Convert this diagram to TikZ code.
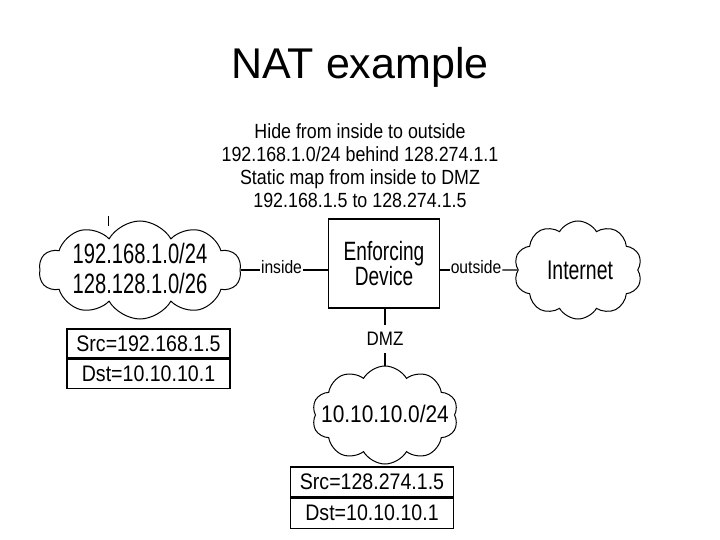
\documentclass[tikz,border=0pt]{standalone}
\usepackage{fontspec}
\setmainfont{Liberation Sans}
\newfontfamily\slimfont[FakeStretch=0.72]{Liberation Sans}
\newfontfamily\halfslimfont[FakeStretch=0.87]{Liberation Sans}
\usetikzlibrary{shapes.symbols}
\tikzset{
  netcloud/.style={cloud, draw, cloud puffs=10, cloud puff arc=120,
    cloud ignores aspect, inner sep=0pt, line width=1pt},
  pktbox/.style={draw, line width=1.2pt, minimum width=163pt,
    minimum height=29pt, inner sep=0pt,
    font=\halfslimfont\fontsize{22.5}{27}\selectfont},
  link/.style={line width=1.2pt},
  portlbl/.style={inner sep=1pt, font=\halfslimfont\fontsize{18}{21}\selectfont},
}
\begin{document}
\begin{tikzpicture}[x=1pt,y=-1pt]
   \useasboundingbox (0,0) rectangle (720,540);
   \node[anchor=base, inner sep=0pt] (title) at (360,79)
     {\fontsize{43}{50}\selectfont NAT example};
   \node[anchor=north, align=center, inner sep=0pt,
     font=\halfslimfont\fontsize{20.5}{23.3}\selectfont] (policy) at (360,123)
     {Hide from inside to outside\\192.168.1.0/24 behind 128.274.1.1\\
      Static map from inside to DMZ\\192.168.1.5 to 128.274.1.5};
   \node[netcloud, minimum width=202pt, minimum height=98pt] (lan) at (140,270) {};
   \node[anchor=north, align=center, inner sep=0pt,
     font=\slimfont\fontsize{28}{30}\selectfont] (lantxt) at (140,243)
     {192.168.1.0/24\\128.128.1.0/26};
   \coordinate (stub) at (108,216);
   \draw[line width=1pt] (stub) -- ++(0,10);
   \node[draw, link, minimum width=111pt, minimum height=89pt, align=center,
     font=\slimfont\fontsize{26.5}{24.7}\selectfont] (device) at (384,263.5)
     {Enforcing\\Device};
   \node[portlbl] (inside) at (281.5,267.5) {inside};
   \node[portlbl] (outside) at (476,267.5) {outside};
   \node[netcloud, minimum width=128pt, minimum height=98pt] (inet) at (578,270) {};
   \node[inner sep=0pt, font=\slimfont\fontsize{27}{30}\selectfont] (inettxt)
     at (580,270) {Internet};
   \draw[link] (lan.east) -- (inside.west |- lan.east);
   \draw[link] (inside.east |- lan.east) -- (device.west |- lan.east);
   \draw[link] (device.east |- lan.east) -- (outside.west |- lan.east);
   \draw[link] (outside.east |- lan.east) -- (inet.west);
   \node[inner xsep=0pt, inner ysep=7pt,
     font=\halfslimfont\fontsize{19.5}{22}\selectfont] (dmzlbl) at (385,339) {DMZ};
   \node[netcloud, minimum width=146pt, minimum height=98pt] (dmz) at (385,415) {};
   \node[inner sep=0pt, font=\halfslimfont\fontsize{24}{28}\selectfont] (dmztxt)
     at (385,414) {10.10.10.0/24};
   \draw[link] (device.south -| dmzlbl) -- (dmzlbl.north);
   \draw[link] (dmzlbl.south) -- (dmz.north);
   \node[pktbox] (insrc) at (148.5,343.5) {Src=192.168.1.5};
   \node[pktbox, anchor=north] (indst) at (insrc.south) {Dst=10.10.10.1};
   \node[pktbox, minimum height=30pt] (dmzsrc) at (372,482) {Src=128.274.1.5};
   \node[pktbox, minimum height=30pt, anchor=north] (dmzdst) at (dmzsrc.south)
     {Dst=10.10.10.1};
\end{tikzpicture}
\end{document}
